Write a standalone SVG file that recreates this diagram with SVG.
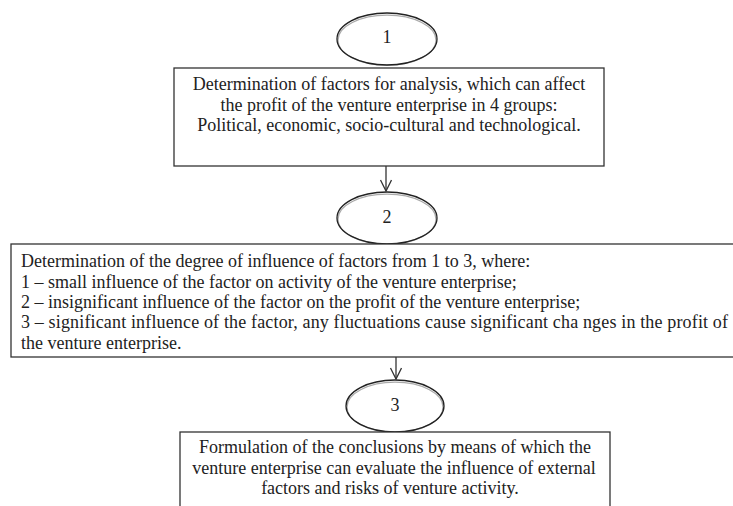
<svg xmlns="http://www.w3.org/2000/svg" width="733" height="506" viewBox="0 0 733 506">
<style>
.t{font-family:'Liberation Serif','Times New Roman',serif;font-size:18px;fill:#222}
.c{text-anchor:middle}
.box{fill:#fff;stroke:#333;stroke-width:1.3}
.el{fill:none;stroke:#222;stroke-width:1.3}
.bg{fill:#fff;stroke:none}
.sh{fill:none;stroke:#aaa;stroke-width:1.2}
.ln{stroke:#333;stroke-width:1.3;fill:none}
</style>
<defs>
<marker id="ah" markerWidth="14" markerHeight="14" refX="12" refY="6" orient="auto" markerUnits="userSpaceOnUse">
<path d="M1,0.5 L12,6 L1,11.5" fill="none" stroke="#333" stroke-width="1.3"/>
</marker>
</defs>
<rect width="733" height="506" fill="#fff"/>
<g id="node-1">
<ellipse class="bg" cx="387" cy="39" rx="50" ry="26"/>
<ellipse class="sh" cx="387" cy="40.2" rx="49" ry="25"/>
<ellipse class="el" cx="387" cy="39" rx="50" ry="26"/>
<text class="t c" x="387" y="43">1</text>
</g>
<g id="box-1">
<rect class="box" x="174" y="68" width="430" height="98"/>
<text class="t c" x="389" y="90">Determination of factors for analysis, which can affect</text>
<text class="t c" x="389" y="111">the profit of the venture enterprise in 4 groups:</text>
<text class="t c" x="389" y="131">Political, economic, socio-cultural and technological.</text>
</g>
<g id="node-2">
<ellipse class="bg" cx="387" cy="218" rx="50" ry="26"/>
<ellipse class="sh" cx="387" cy="219.2" rx="49" ry="25"/>
<ellipse class="el" cx="387" cy="218" rx="50" ry="26"/>
<text class="t c" x="387" y="223">2</text>
</g>
<g id="box-2">
<rect class="box" x="11" y="244" width="740" height="113"/>
<text class="t" x="21" y="267">Determination of the degree of influence of factors from 1 to 3, where:</text>
<text class="t" x="21" y="287.5">1 – small influence of the factor on activity of the venture enterprise;</text>
<text class="t" x="21" y="308">2 – insignificant influence of the factor on the profit of the venture enterprise;</text>
<text class="t" x="21" y="328" textLength="707" lengthAdjust="spacing">3 – significant influence of the factor, any fluctuations cause significant cha nges in the profit of</text>
<text class="t" x="21" y="349">the venture enterprise.</text>
</g>
<g id="node-3">
<ellipse class="bg" cx="395" cy="406" rx="49" ry="26"/>
<ellipse class="sh" cx="395" cy="407.2" rx="48" ry="25"/>
<ellipse class="el" cx="395" cy="406" rx="49" ry="26"/>
<text class="t c" x="395" y="411">3</text>
</g>
<g id="box-3">
<rect class="box" x="180" y="432" width="430" height="90"/>
<text class="t c" x="395" y="453">Formulation of the conclusions by means of which the</text>
<text class="t c" x="394" y="474">venture enterprise can evaluate the influence of external</text>
<text class="t c" x="390" y="494">factors and risks of venture activity.</text>
</g>
<g id="connectors">
<line class="ln" x1="386" y1="166" x2="386" y2="191" marker-end="url(#ah)"/>
<line class="ln" x1="396" y1="357" x2="396" y2="379" marker-end="url(#ah)"/>
</g>
</svg>
